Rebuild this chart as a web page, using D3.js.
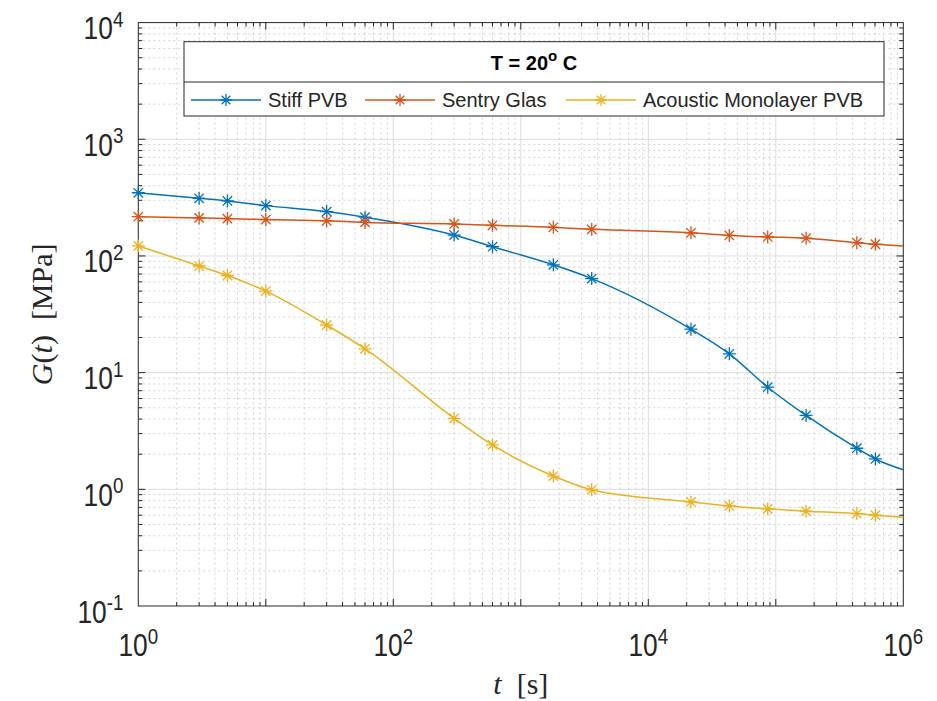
<!DOCTYPE html>
<html>
<head>
<meta charset="utf-8">
<script src="https://cdn.jsdelivr.net/npm/d3@7"></script>
<style>
  html, body { margin: 0; padding: 0; background: #fff; }
  svg { display: block; }
</style>
</head>
<body>
<svg id="chart" width="937" height="701"></svg>
<script>
// ---- data ----
const times = [1, 3, 5, 10, 30, 60, 300, 600, 1800, 3600, 21600, 43200, 86400, 172800, 432000, 604800];
const stiffPVB = [348, 312, 296, 270, 240, 215, 151, 120, 84, 64, 23.6, 14.5, 7.5, 4.3, 2.25, 1.82];
const sentryGlas = [217, 212, 209, 205, 200, 194, 188, 183, 176, 169, 158, 150, 145.5, 142, 130, 126];
const acousticPVB = [122, 82, 68, 50, 25.6, 16.0, 4.06, 2.40, 1.30, 0.99, 0.78, 0.72, 0.68, 0.65, 0.62, 0.60];
// value of each curve at the right border t = 1e6 (line continues past the last marker)
const endTime = 1e6;
const endValues = [1.47, 122, 0.575];
const seriesNames = ["Stiff PVB", "Sentry Glas", "Acoustic Monolayer PVB"];
const seriesColors = ["#0072BD", "#D95319", "#EDB120"];
const xTickExps = [0, 2, 4, 6];
const yTickExps = [-1, 0, 1, 2, 3, 4];
const legendTitle = "T = 20";

// ---- layout ----
const L = 138.3, R = 903.3, T = 22.6, B = 606;
const svg = d3.select("#chart");
const x = d3.scaleLog().domain([1, 1e6]).range([L, R]);
const y = d3.scaleLog().domain([0.1, 1e4]).range([B, T]);

// ---- grids ----
const grid = svg.append("g");
const minorX = [], minorY = [];
for (let e = 0; e < 6; e++) for (let k = 2; k <= 9; k++) minorX.push(k * Math.pow(10, e));
for (let e = -1; e < 4; e++) for (let k = 2; k <= 9; k++) minorY.push(k * Math.pow(10, e));
const majorX = d3.range(1, 6).map(e => Math.pow(10, e));
const majorY = d3.range(0, 4).map(e => Math.pow(10, e));

grid.selectAll(".mx").data(minorX).enter().append("line")
  .attr("x1", d => x(d)).attr("x2", d => x(d)).attr("y1", T).attr("y2", B)
  .attr("stroke", "#c8c8c8").attr("stroke-width", 0.8).attr("stroke-dasharray", "2,3");
grid.selectAll(".my").data(minorY).enter().append("line")
  .attr("y1", d => y(d)).attr("y2", d => y(d)).attr("x1", L).attr("x2", R)
  .attr("stroke", "#c8c8c8").attr("stroke-width", 0.8).attr("stroke-dasharray", "2,3");
grid.selectAll(".Mx").data(majorX).enter().append("line")
  .attr("x1", d => x(d)).attr("x2", d => x(d)).attr("y1", T).attr("y2", B)
  .attr("stroke", "#dcdcdc").attr("stroke-width", 1);
grid.selectAll(".My").data(majorY).enter().append("line")
  .attr("y1", d => y(d)).attr("y2", d => y(d)).attr("x1", L).attr("x2", R)
  .attr("stroke", "#dcdcdc").attr("stroke-width", 1);

// ---- axes (ticks inside, box) ----
const axisColor = "#262626";
const allX = majorX.concat(minorX), allY = majorY.concat(minorY);
const axisG = svg.append("g").attr("stroke", axisColor).attr("stroke-width", 1);
function tickLen(v) { return Math.abs(Math.log10(v) - Math.round(Math.log10(v))) < 1e-9 ? 7 : 4; }
allX.forEach(v => {
  axisG.append("line").attr("x1", x(v)).attr("x2", x(v)).attr("y1", B).attr("y2", B - tickLen(v));
  axisG.append("line").attr("x1", x(v)).attr("x2", x(v)).attr("y1", T).attr("y2", T + tickLen(v));
});
allY.forEach(v => {
  axisG.append("line").attr("y1", y(v)).attr("y2", y(v)).attr("x1", L).attr("x2", L + tickLen(v));
  axisG.append("line").attr("y1", y(v)).attr("y2", y(v)).attr("x1", R).attr("x2", R - tickLen(v));
});
axisG.append("rect").attr("x", L).attr("y", T).attr("width", R - L).attr("height", B - T)
  .attr("fill", "none");

// ---- series ----
const allSeries = [stiffPVB, sentryGlas, acousticPVB];
const line = d3.line().x(d => x(d[0])).y(d => y(d[1])).curve(d3.curveMonotoneX);
function starPath(cx, cy, s) {
  const d = s * 0.72;
  return `M${cx},${cy - s}L${cx},${cy + s}M${cx - s},${cy}L${cx + s},${cy}` +
    `M${cx - d},${cy - d}L${cx + d},${cy + d}M${cx - d},${cy + d}L${cx + d},${cy - d}`;
}
const plotG = svg.append("g");
allSeries.forEach((vals, i) => {
  const pts = times.map((t, j) => [t, vals[j]]).concat([[endTime, endValues[i]]]);
  plotG.append("path").attr("d", line(pts)).attr("fill", "none")
    .attr("stroke", seriesColors[i]).attr("stroke-width", 1.5);
  plotG.selectAll(null).data(times.map((t, j) => [t, vals[j]])).enter().append("path")
    .attr("d", d => starPath(x(d[0]), y(d[1]), 6.5))
    .attr("stroke", seriesColors[i]).attr("stroke-width", 1.3).attr("fill", "none");
});

// ---- tick labels ----
const tickFont = "'Liberation Sans', Arial, Helvetica, sans-serif";
const labG = svg.append("g").attr("fill", "#262626").style("font-family", tickFont);
function powLabel(g, px, py, exp, anchor) {
  const t = g.append("text").attr("transform", `translate(${px},${py}) scale(0.85,1)`)
    .attr("text-anchor", anchor);
  t.append("tspan").style("font-size", "31px").text("10");
  t.append("tspan").style("font-size", "22px").attr("dy", -12.5).text(String(exp));
}
yTickExps.forEach(e => powLabel(labG, L - 15, y(Math.pow(10, e)) + 16.5, e, "end"));
xTickExps.forEach(e => powLabel(labG, x(Math.pow(10, e)), B + 50, e, "middle"));

// ---- axis titles ----
const serif = "'Liberation Serif', 'Times New Roman', 'DejaVu Serif', serif";
const xt = svg.append("text").attr("x", (L + R) / 2).attr("y", B + 88).attr("text-anchor", "middle")
  .style("font-family", serif).style("font-size", "30px").attr("fill", "#262626");
xt.append("tspan").style("font-style", "italic").text("t");
xt.append("tspan").text("\u2002[s]");
const yt = svg.append("text").attr("transform", `translate(52,${(T + B) / 2}) rotate(-90)`)
  .attr("text-anchor", "middle").style("font-family", serif).style("font-size", "30px").attr("fill", "#262626");
yt.append("tspan").style("font-style", "italic").text("G");
yt.append("tspan").text("(");
yt.append("tspan").style("font-style", "italic").text("t");
yt.append("tspan").text(")\u2002[MPa]");

// ---- legend ----
const lg = svg.append("g");
const lgX0 = 184, lgX1 = 884, lgY0 = 41.7, lgYm = 82, lgY1 = 116;
lg.append("rect").attr("x", lgX0).attr("y", lgY0).attr("width", lgX1 - lgX0).attr("height", lgY1 - lgY0)
  .attr("fill", "#fff").attr("stroke", axisColor).attr("stroke-width", 1);
lg.append("line").attr("x1", lgX0).attr("x2", lgX1).attr("y1", lgYm).attr("y2", lgYm)
  .attr("stroke", axisColor).attr("stroke-width", 1);
const title = lg.append("text").attr("x", (lgX0 + lgX1) / 2).attr("y", 70).attr("text-anchor", "middle")
  .style("font-family", tickFont).style("font-weight", "bold").style("font-size", "20px").attr("fill", "#000");
title.append("tspan").text(legendTitle);
title.append("tspan").style("font-size", "15px").attr("dy", -9).text("o");
title.append("tspan").attr("dy", 9).text(" C");
const entryX = [191, 365, 566];
const rowY = 100;
seriesNames.forEach((name, i) => {
  const x0 = entryX[i];
  lg.append("line").attr("x1", x0).attr("x2", x0 + 70).attr("y1", rowY).attr("y2", rowY)
    .attr("stroke", seriesColors[i]).attr("stroke-width", 1.5);
  lg.append("path").attr("d", starPath(x0 + 35, rowY, 6)).attr("stroke", seriesColors[i])
    .attr("stroke-width", 1.3).attr("fill", "none");
  lg.append("text").attr("x", x0 + 77).attr("y", rowY + 7).style("font-family", tickFont)
    .style("font-size", "20px").attr("fill", "#262626").text(name);
});
</script>
</body>
</html>
